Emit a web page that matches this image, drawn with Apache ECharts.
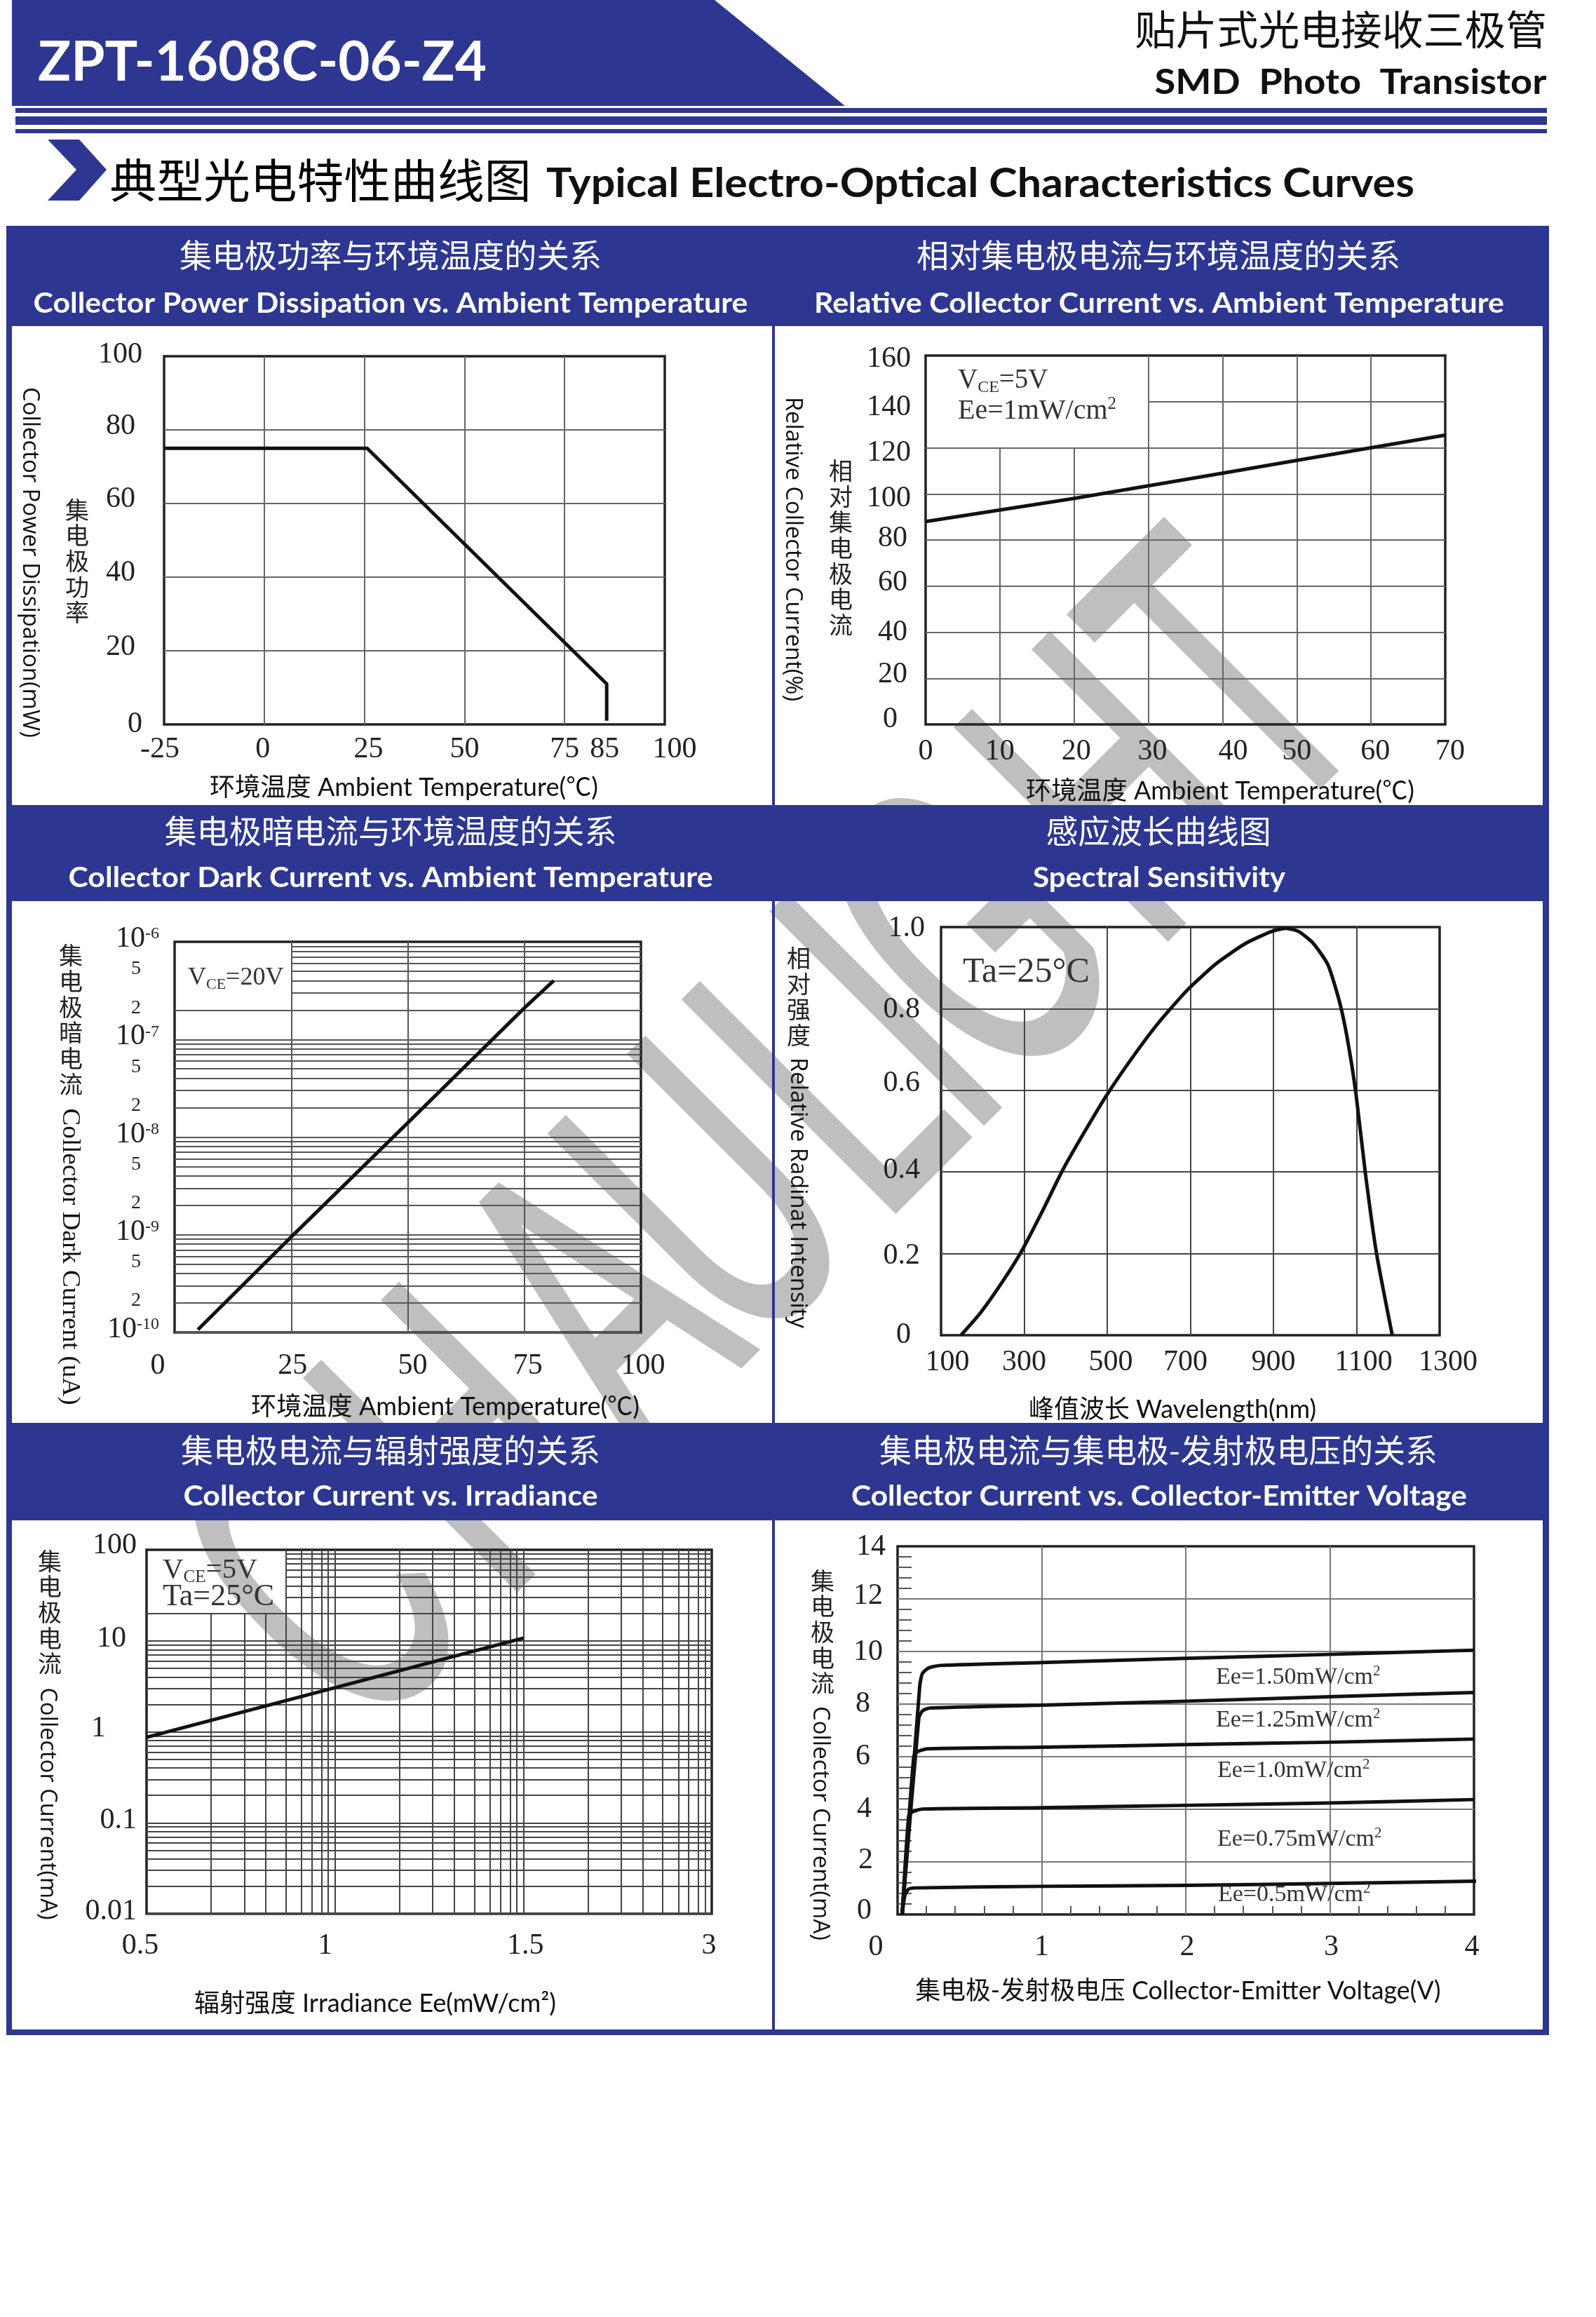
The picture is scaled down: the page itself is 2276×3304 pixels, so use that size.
<!DOCTYPE html>
<html><head><meta charset="utf-8">
<style>html,body{margin:0;padding:0;background:#fff}#c{width:2276px;height:3304px}</style>
<script src="https://cdn.jsdelivr.net/npm/echarts@6/dist/echarts.min.js"></script>
</head><body><div id="c"></div>
<script>
// ---------- data ----------
const powerTemp = [-25, 25.7, 85.5, 85.5];
const powerMw = [75, 75, 11, 1];
const powerXTicks = [-25, 0, 25, 50, 75, 85, 100];
const powerYTicks = [0, 20, 40, 60, 80, 100];

const relTemp = [0, 10, 20, 30, 40, 50, 60, 70];
const relCurrent = [88, 93, 98, 103.5, 109, 114.5, 120, 125.5];
const relXTicks = [0, 10, 20, 30, 40, 50, 60, 70];
const relYTicks = [0, 20, 40, 60, 80, 100, 120, 140, 160];

const darkTemp = [5, 25, 50, 75, 81.3];
const darkCurrent = [1.07e-10, 9.5e-10, 1.4e-8, 2.1e-7, 4e-7];
const darkXTicks = [0, 25, 50, 75, 100];
const darkYTicks = [1e-6, 5e-7, 2e-7, 1e-7, 5e-8, 2e-8, 1e-8, 5e-9, 2e-9, 1e-9, 5e-10, 2e-10, 1e-10];

const wavelength = [148, 195, 249, 295, 343, 393, 444, 498, 561, 623, 693, 763, 833, 895, 930, 961, 996, 1031, 1059, 1078, 1098, 1121, 1148, 1186];
const sensitivity = [0, .055, .133, .208, .302, .405, .496, .587, .681, .765, .846, .911, .960, .989, .997, .989, .960, .908, .817, .726, .597, .399, .201, 0];
const specXTicks = [100, 300, 500, 700, 900, 1100, 1300];
const specYTicks = [0, .2, .4, .6, .8, 1];

const irrPos = [1, 22, 100];
const irrCurrent = [.87, 4.7, 10.7];
const irrXTicks = [1, 10, 100, 1000];
const irrXLabels = ['0.5', '1', '1.5', '3'];
const irrYTicks = [.01, .1, 1, 10, 100];
const irrYLabels = ['0.01', '0.1', '1', '10', '100'];
const irrXMinor = [2.2, 3.3, 4.3, 5.5, 6.65, 7.55, 8.5, 9.2];
const logMinor = [2, 3, 4, 5, 6, 7, 8, 9];

const vceX150 = [.032, .154, .172, .214, .295, 1, 2, 3, 4];
const vceY150 = [0, 8.7, 9.16, 9.37, 9.47, 9.58, 9.74, 9.89, 10.05];
const vceX125 = [.032, .147, .172, .225, 1, 2, 3, 4];
const vceY125 = [0, 7.46, 7.74, 7.85, 7.96, 8.11, 8.28, 8.44];
const vceX100 = [.032, .112, .137, .207, 1, 2, 3, 4];
const vceY100 = [0, 5.99, 6.19, 6.30, 6.36, 6.46, 6.55, 6.67];
const vceX075 = [.032, .077, .102, .172, 1, 2, 3, 4];
const vceY075 = [0, 3.75, 3.9, 4.01, 4.06, 4.15, 4.24, 4.37];
const vceX050 = [.032, .05, .075, .125, 1, 2, 3, 4.025];
const vceY050 = [0, .7, .96, 1.01, 1.07, 1.11, 1.18, 1.27];
const vceXTicks = [0, 1, 2, 3, 4];
const vceYTicks = [0, 2, 4, 6, 8, 10, 12, 14];
const vceXMinor = [.2, .4, .6, .8, 1.2, 1.4, 1.6, 1.8, 2.2, 2.4, 2.6, 2.8, 3.2, 3.4, 3.6, 3.8];
const vceYMinor = [.4, .8, 1.2, 1.6, 2.4, 2.8, 3.2, 3.6, 4.4, 4.8, 5.2, 5.6, 6.4, 6.8, 7.2, 7.6, 8.4, 8.8, 9.2, 9.6, 10.4, 10.8, 11.2, 11.6, 12.4, 12.8, 13.2, 13.6];

// ---------- helpers ----------
const BLUE = '#2d3691', SERIF = '"Liberation Serif"', CJK = '"Noto Sans CJK SC"';
const LATO = 'Lato,' + CJK, WIDE = '"Open Sans",' + CJK;
const zip = (a, b) => a.map((v, i) => [v, b[i]]);
const cv = document.createElement('canvas').getContext('2d');
function T(x, y, text, o) {
  o = o || {};
  const size = o.size || 36, fam = o.font || LATO, wt = o.weight || 'normal';
  let sx = o.sx || 1;
  if (o.w) { cv.font = `${wt} ${size}px ${fam}`; sx = o.w / cv.measureText(text).width; }
  const style = {text, fontSize: size, fontFamily: fam, fontWeight: wt, fill: o.color || '#111',
    align: o.align || 'center', verticalAlign: 'middle', textAlign: o.align || 'center', textVerticalAlign: 'middle'};
  if (o.lh) style.lineHeight = o.lh;
  if (o.rich) style.rich = o.rich;
  if (o.stroke) { style.stroke = o.stroke; style.lineWidth = o.lw; }
  return {type: 'text', x, y, rotation: o.rot || 0, scaleX: sx, scaleY: o.sy || 1, z: o.z == null ? 30 : o.z, silent: true, style};
}
const R = (x, y, w, h, z) => ({type: 'rect', z: z == null ? 60 : z, silent: true, shape: {x, y, width: w, height: h}, style: {fill: BLUE}});
const P = (pts) => ({type: 'polygon', z: 60, silent: true, shape: {points: pts}, style: {fill: BLUE}});
const stack = (x, y, s) => T(x, y, s.split('').join('\n'), {size: 34, lh: 36.7, color: '#222'});
const side = (x, y, s, w, font, size) => T(x, y, s, {rot: -Math.PI / 2, w, size: size || 32, font: font || WIDE, color: '#111'});

function tickLabels(ticks, labels, kind, nudges, size) {
  const rich = {};
  labels.forEach((l, i) => {
    const n = (nudges && nudges[i]) || [0, 0], dx = n[0], dy = n[1];
    const pad = [0, 0, 0, 0];
    if (kind === 'x') { if (dx > 0) pad[3] = 2 * dx; else pad[1] = -2 * dx; }
    else { pad[1] = Math.max(0, -dx); if (dy > 0) pad[0] = 2 * dy; else pad[2] = -2 * dy; }
    rich['t' + i] = {fontFamily: SERIF, fontSize: size || 42, color: '#222', padding: pad};
  });
  return {
    show: true, customValues: ticks, rich, hideOverlap: false, showMinLabel: true, showMaxLabel: true,
    formatter: v => {
      let b = 0, bd = Infinity;
      ticks.forEach((t, i) => { const d = Math.abs(t - v) / (Math.abs(t) || 1); if (d < bd) { bd = d; b = i; } });
      return `{t${b}|${labels[b]}}`;
    }
  };
}
function seg(a, b, a2, b2) { return [{coord: [a, b]}, {coord: [a2, b2]}]; }
function gridMark(segs, color, width) {
  return {silent: true, symbol: 'none', animation: false, label: {show: false}, emphasis: {disabled: true},
    lineStyle: {color: color || '#666', width: width || 2, type: 'solid'}, data: segs};
}
const H = (ys, x0, x1) => ys.map(y => seg(x0, y, x1, y));
const V = (xs, y0, y1) => xs.map(x => seg(x, y0, x, y1));
function gridBox(l, t, r, b) {
  return {left: l, top: t, width: r - l, height: b - t, show: true, backgroundColor: 'transparent', borderColor: '#222', borderWidth: 3.5, containLabel: false};
}
function axis(idx, type, min, max, label, margin, extra) {
  const a = {gridIndex: idx, type, min, max, axisLine: {show: false}, axisTick: {show: false}, splitLine: {show: false},
    minorSplitLine: {show: false}, axisLabel: Object.assign(label, {margin}), z: 5};
  return Object.assign(a, extra || {});
}
const curve = (i, data, sm, extra) => Object.assign({type: 'line', xAxisIndex: i, yAxisIndex: i, data, symbol: 'none', smooth: sm || false, z: 6,
  animation: false, silent: true, lineStyle: {color: '#111', width: 5, cap: 'butt', join: 'round'}}, extra || {});

// ---------- dark current y labels (with powers of ten) ----------
const darkLabels = darkYTicks.map(v => {
  const e = Math.round(Math.log10(v));
  if (Math.abs(Math.pow(10, e) / v - 1) < 1e-6) return `{b|10}{s|${e}}`;
  return `{m|${Math.round(v / Math.pow(10, Math.floor(Math.log10(v) + 1e-9)))}}`;
});
const darkYLabel = {
  show: true, customValues: darkYTicks, hideOverlap: false, showMinLabel: true, showMaxLabel: true,
  rich: {
    b: {fontFamily: SERIF, fontSize: 42, color: '#222', lineHeight: 46, padding: [0, 0, 8, 0]},
    s: {fontFamily: SERIF, fontSize: 24, color: '#222', verticalAlign: 'top', lineHeight: 24},
    m: {fontFamily: SERIF, fontSize: 28, color: '#222', padding: [0, 26, 6, 0]}
  },
  formatter: v => {
    let b = 0, bd = Infinity;
    darkYTicks.forEach((t, i) => { const d = Math.abs(Math.log10(t / v)); if (d < bd) { bd = d; b = i; } });
    return darkLabels[b];
  }
};

// ---------- panels ----------
const grids = [
  gridBox(234, 508, 948, 1033), gridBox(1320, 507, 2061, 1033),
  gridBox(249, 1343, 914, 1900), gridBox(1342, 1322, 2053, 1904),
  gridBox(209, 2210, 1015, 2729), gridBox(1280, 2205, 2102, 2730)
];
const darkDec = [1e-10, 1e-9, 1e-8, 1e-7];
const darkLines = [];
darkDec.forEach(d => logMinor.concat([1]).forEach(m => {
  const v = d * m;
  const boxed = d === 1e-7 && m > 2;
  darkLines.push(seg(boxed ? 25 : 0, v, 100, v));
}));
const irrH = [], irrV = [];
[.01, .1, 1, 10].forEach(d => logMinor.concat([1]).forEach(m => {
  const v = d * m;
  irrH.push(seg(d === 10 && m > 2 ? 5.5 : 1, v, 1000, v));
}));
[1, 10, 100].forEach(d => irrXMinor.concat([1]).forEach(m => {
  const v = d * m;
  if (v === 1) return;
  irrV.push(seg(v, .01, v, v < 5.5 ? 20 : 100));
}));

const xAxes = [
  axis(0, 'value', -25, 100, tickLabels(powerXTicks, powerXTicks.map(String), 'x', [[-6], [-2], [6], 0, 0, 0, [14]]), 15),
  axis(1, 'value', 0, 70, tickLabels(relXTicks, relXTicks.map(String), 'x', [0, 0, [3], [6], [15], 0, [6], [7]]), 18),
  axis(2, 'value', 0, 100, tickLabels(darkXTicks, darkXTicks.map(String), 'x', [[-24], [2], [7], [5], [3]]), 27),
  axis(3, 'value', 100, 1300, tickLabels(specXTicks, specXTicks.map(String), 'x', [[9], 0, [5], [-7], 0, [10], [12]]), 18),
  axis(4, 'log', 1, 1000, tickLabels(irrXTicks, irrXLabels, 'x', [[-9], [-14], [3], [-4]]), 25, {logBase: 10}),
  axis(5, 'value', 0, 4, tickLabels(vceXTicks, vceXTicks.map(String), 'x', [[-31], 0, [2], [2], [-3]]), 26,
    {axisTick: {show: true, inside: true, length: 12, customValues: vceXMinor, lineStyle: {color: '#555', width: 2}}})
];
const yAxes = [
  axis(0, 'value', 0, 100, tickLabels(powerYTicks, powerYTicks.map(String), 'y', [[-2, 0], [-12, -5], [-12, -6], [-12, -6], [-12, -5], [-2, -2]]), 29),
  axis(1, 'value', 0, 160, tickLabels(relYTicks, relYTicks.map(String), 'y', [[-19, -7], [-5, -5], [-5, 0], [-5, -5], [-5, -2], [0, 7], [0, 7], [0, 8], [0, 5]]), 21),
  axis(2, 'log', 1e-10, 1e-6, darkYLabel, 22, {logBase: 10}),
  axis(3, 'value', 0, 1, tickLabels(specYTicks, specYTicks.map(v => v === 0 ? '0' : v.toFixed(1)), 'y', [[-20, 0], [-7, 3], [-7, -2], [-7, -10], [-7, 2], [0, 2]]), 23),
  axis(4, 'log', .01, 100, tickLabels(irrYTicks, irrYLabels, 'y', [[0, -3], [0, -3], [-44, -5], [-15, -3], [0, -6]]), 14, {logBase: 10}),
  axis(5, 'value', 0, 14, tickLabels(vceYTicks, vceYTicks.map(String), 'y', [[-20, -5], [-18, -2], [-20, 0], [-22, 0], [-22, 0], [-4, 1], [-4, -4], [0, 1]]), 17,
    {axisTick: {show: true, inside: true, length: 20, customValues: vceYMinor, lineStyle: {color: '#555', width: 2}}})
];
const series = [
  curve(0, zip(powerTemp, powerMw), false, {markLine: gridMark(H([20, 40, 60, 80], -25, 100).concat(V([0, 25, 50, 75], 0, 100)))}),
  curve(1, zip(relTemp, relCurrent), false, {markLine: gridMark(
    H([20, 40, 60, 80, 100, 120], 0, 70).concat(H([140], 30, 70)).concat(V([10, 20], 0, 120)).concat(V([30, 40, 50, 60], 0, 160)))}),
  curve(2, zip(darkTemp, darkCurrent), false, {markLine: gridMark(darkLines.concat(V([25, 50, 75], 1e-10, 1e-6)), '#555', 2)}),
  curve(3, zip(wavelength, sensitivity), 0.2, {markLine: gridMark(
    H([.2, .4, .6, .8], 100, 1300).concat(V([300], 0, .8)).concat(V([500, 700, 900, 1100], 0, 1)), '#444', 2)}),
  curve(4, zip(irrPos, irrCurrent), false, {markLine: gridMark(irrH.concat(irrV), '#444', 2)}),
  curve(5, zip(vceX150, vceY150), 0.2, {clip: false, markLine: gridMark(H([2, 4, 6, 8, 10, 12], 0, 4).concat(V([1, 2, 3], 0, 14)), '#777', 2)}),
  curve(5, zip(vceX125, vceY125), 0.2, {clip: false}),
  curve(5, zip(vceX100, vceY100), 0.2, {clip: false}),
  curve(5, zip(vceX075, vceY075), 0.2, {clip: false}),
  curve(5, zip(vceX050, vceY050), 0.2, {clip: false})
];

// ---------- page furniture and text ----------
const annRich = s => ({a: {fontFamily: SERIF, fontSize: s, fill: '#333', lineHeight: s + 4},
  b: {fontFamily: SERIF, fontSize: Math.round(s * .62), fill: '#333', verticalAlign: 'bottom', lineHeight: s + 4},
  c: {fontFamily: SERIF, fontSize: Math.round(s * .62), fill: '#333', verticalAlign: 'top', lineHeight: Math.round(s * .62)}});
const A = (x, y, s, size) => T(x, y, s, {align: 'left', font: SERIF, size, rich: annRich(size), color: '#333', z: 30});
const hc = 557, hc2 = 1652, W = '#fff';

// watermark letters, each set along the 45 degree baseline (x + y = 3036)
const wmText = 'CHAULIGHT'.split('');
const wmBaseX = [620, 820, 1016, 1170, 1340, 1430, 1545, 1748, 1910];
const watermark = wmText.map((ch, i) => T(wmBaseX[i] - 137, 3036 - wmBaseX[i] - 137, ch,
  {font: '"Liberation Sans"', size: 614, sx: .55, rot: Math.PI / 4, color: '#bfbfbf', stroke: '#bfbfbf', lw: 10, z: -10}));

const gfx = watermark.concat([
  // banner
  P([[17, 0], [1019, 0], [1205, 151], [17, 151]]),
  R(22, 154, 2184, 7), R(22, 166, 2184, 12), R(22, 184, 2184, 6),
  P([[68, 199], [113, 199], [152, 242], [113, 286], [68, 286], [109, 242]]),
  // table
  R(9, 322, 2200, 143), R(9, 1148, 2200, 137), R(9, 2029, 2200, 139),
  R(9, 322, 8, 2580), R(2200, 322, 9, 2580), R(1101, 322, 4, 2580), R(9, 2894, 2200, 8),
  // banner text
  T(374, 90, 'ZPT-1608C-06-Z4', {align: 'center', size: 78, weight: 'bold', color: W, w: 640, z: 70}),
  T(1912, 42, '贴片式光电接收三极管', {size: 58, font: CJK, w: 588, color: '#111'}),
  T(1926, 118, 'SMD  Photo  Transistor', {size: 50, weight: 'bold', w: 559, color: '#111'}),
  T(457, 257, '典型光电特性曲线图', {size: 66, font: CJK, w: 601, color: '#000'}),
  T(1398, 262, 'Typical Electro-Optical Characteristics Curves', {size: 58, weight: 'bold', w: 1238, color: '#111'}),
  // panel headers
  T(hc, 364, '集电极功率与环境温度的关系', {size: 46, font: CJK, w: 602, color: W, z: 70}),
  T(hc2, 364, '相对集电极电流与环境温度的关系', {size: 46, font: CJK, w: 690, color: W, z: 70}),
  T(hc, 433, 'Collector Power Dissipation vs. Ambient Temperature', {size: 40, weight: 'bold', w: 1019, color: W, z: 70}),
  T(1653, 433, 'Relative Collector Current vs. Ambient Temperature', {size: 40, weight: 'bold', w: 984, color: W, z: 70}),
  T(hc, 1185, '集电极暗电流与环境温度的关系', {size: 46, font: CJK, w: 645, color: W, z: 70}),
  T(hc2, 1185, '感应波长曲线图', {size: 46, font: CJK, w: 321, color: W, z: 70}),
  T(hc, 1252, 'Collector Dark Current vs. Ambient Temperature', {size: 40, weight: 'bold', w: 919, color: W, z: 70}),
  T(1653, 1252, 'Spectral Sensitivity', {size: 40, weight: 'bold', w: 360, color: W, z: 70}),
  T(hc, 2068, '集电极电流与辐射强度的关系', {size: 46, font: CJK, w: 598, color: W, z: 70}),
  T(hc2, 2068, '集电极电流与集电极-发射极电压的关系', {size: 46, font: CJK, w: 796, color: W, z: 70}),
  T(hc, 2134, 'Collector Current vs. Irradiance', {size: 40, weight: 'bold', w: 591, color: W, z: 70}),
  T(1653, 2134, 'Collector Current vs. Collector-Emitter Voltage', {size: 40, weight: 'bold', w: 878, color: W, z: 70}),
  // axis titles
  side(42, 802, 'Collector Power Dissipation(mW)', 500), stack(110, 802, '集电极功率'),
  T(576, 1123, '环境温度 Ambient Temperature(℃)', {w: 554}),
  side(1130, 783, 'Relative Collector Current(%)', 434), stack(1199, 783, '相对集电极电流'),
  T(1740, 1128, '环境温度 Ambient Temperature(℃)', {w: 554}),
  stack(101, 1456, '集电极暗电流'), side(99, 1792, 'Collector Dark Current (uA)', 423, SERIF, 36),
  T(635, 2006, '环境温度 Ambient Temperature(℃)', {w: 554}),
  stack(1139, 1423, '相对强度'), side(1137, 1701, 'Relative Radinat Intensity', 386),
  T(1672, 2010, '峰值波长 Wavelength(nm)', {w: 410}),
  stack(71, 2301, '集电极电流'), side(67, 2572, 'Collector Current(mA)', 331),
  T(535, 2857, '辐射强度 Irradiance Ee(mW/cm²)', {w: 516}),
  stack(1173, 2329, '集电极电流'), side(1169, 2600, 'Collector Current(mA)', 334),
  T(1680, 2839, '集电极-发射极电压 Collector-Emitter Voltage(V)', {w: 749}),
  // in-plot annotations
  A(1366, 543, '{a|V}{b|CE}{a|=5V}', 39),
  A(1366, 586, '{a|Ee=1mW/cm}{c|2}', 40),
  A(268, 1395, '{a|V}{b|CE}{a|=20V}', 36),
  A(1373, 1387, '{a|Ta=25°C}', 50),
  A(232, 2239, '{a|V}{b|CE}{a|=5V}', 41),
  A(232, 2277, '{a|Ta=25°C}', 44),
  A(1734, 2392, '{a|Ee=1.50mW/cm}{c|2}', 34),
  A(1734, 2453, '{a|Ee=1.25mW/cm}{c|2}', 34),
  A(1736, 2525, '{a|Ee=1.0mW/cm}{c|2}', 34),
  A(1736, 2623, '{a|Ee=0.75mW/cm}{c|2}', 34),
  A(1737, 2702, '{a|Ee=0.5mW/cm}{c|2}', 34)
]);

const chart = echarts.init(document.getElementById('c'), null, {renderer: 'canvas', width: 2276, height: 3304});
chart.setOption({
  animation: false, backgroundColor: '#fff', tooltip: {show: false}, legend: {show: false},
  grid: grids, xAxis: xAxes, yAxis: yAxes, series, graphic: {elements: gfx}
});
</script></body></html>
